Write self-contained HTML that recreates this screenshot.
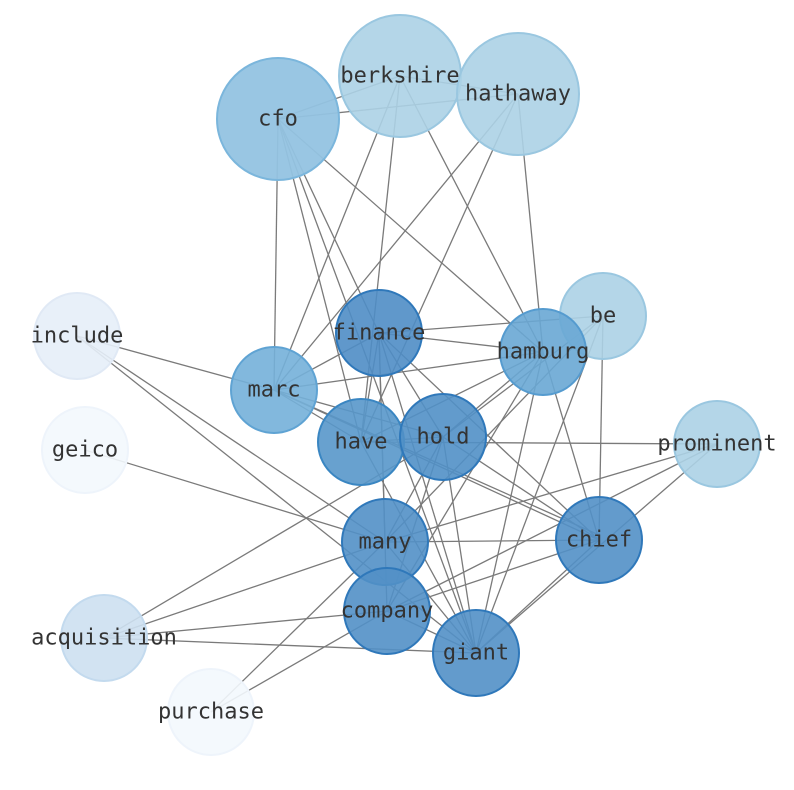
<!DOCTYPE html>
<html><head><meta charset="utf-8"><style>
html,body{margin:0;padding:0;background:#fff;}
svg{display:block;}
text{font-family:"DejaVu Sans Mono","Liberation Mono",monospace;font-size:22px;fill:#333;text-anchor:middle;dominant-baseline:central;}
</style></head><body>
<svg width="794" height="790" viewBox="0 0 794 790" xmlns="http://www.w3.org/2000/svg">
<g stroke="#7a7a7a" stroke-width="1.3" fill="none">
<line x1="278" y1="119" x2="400" y2="76"/>
<line x1="278" y1="119" x2="518" y2="94"/>
<line x1="278" y1="119" x2="274" y2="390"/>
<line x1="278" y1="119" x2="361" y2="442"/>
<line x1="278" y1="119" x2="379" y2="333"/>
<line x1="278" y1="119" x2="543" y2="352"/>
<line x1="278" y1="119" x2="476" y2="653"/>
<line x1="400" y1="76" x2="518" y2="94"/>
<line x1="400" y1="76" x2="274" y2="390"/>
<line x1="400" y1="76" x2="361" y2="442"/>
<line x1="400" y1="76" x2="543" y2="352"/>
<line x1="518" y1="94" x2="274" y2="390"/>
<line x1="518" y1="94" x2="361" y2="442"/>
<line x1="518" y1="94" x2="543" y2="352"/>
<line x1="77" y1="336" x2="274" y2="390"/>
<line x1="77" y1="336" x2="385" y2="542"/>
<line x1="77" y1="336" x2="476" y2="653"/>
<line x1="85" y1="450" x2="385" y2="542"/>
<line x1="379" y1="333" x2="603" y2="316"/>
<line x1="379" y1="333" x2="543" y2="352"/>
<line x1="379" y1="333" x2="274" y2="390"/>
<line x1="379" y1="333" x2="361" y2="442"/>
<line x1="379" y1="333" x2="443" y2="437"/>
<line x1="379" y1="333" x2="385" y2="542"/>
<line x1="379" y1="333" x2="387" y2="611"/>
<line x1="379" y1="333" x2="476" y2="653"/>
<line x1="379" y1="333" x2="599" y2="540"/>
<line x1="543" y1="352" x2="274" y2="390"/>
<line x1="543" y1="352" x2="361" y2="442"/>
<line x1="543" y1="352" x2="443" y2="437"/>
<line x1="543" y1="352" x2="476" y2="653"/>
<line x1="543" y1="352" x2="599" y2="540"/>
<line x1="543" y1="352" x2="387" y2="611"/>
<line x1="603" y1="316" x2="443" y2="437"/>
<line x1="603" y1="316" x2="385" y2="542"/>
<line x1="603" y1="316" x2="476" y2="653"/>
<line x1="603" y1="316" x2="599" y2="540"/>
<line x1="274" y1="390" x2="361" y2="442"/>
<line x1="274" y1="390" x2="443" y2="437"/>
<line x1="274" y1="390" x2="599" y2="540"/>
<line x1="274" y1="390" x2="599" y2="535"/>
<line x1="361" y1="442" x2="717" y2="444"/>
<line x1="361" y1="442" x2="476" y2="653"/>
<line x1="361" y1="442" x2="443" y2="437"/>
<line x1="443" y1="437" x2="385" y2="542"/>
<line x1="443" y1="437" x2="387" y2="611"/>
<line x1="443" y1="437" x2="476" y2="653"/>
<line x1="443" y1="437" x2="599" y2="540"/>
<line x1="443" y1="437" x2="104" y2="638"/>
<line x1="717" y1="444" x2="385" y2="542"/>
<line x1="717" y1="444" x2="387" y2="611"/>
<line x1="717" y1="444" x2="476" y2="653"/>
<line x1="385" y1="542" x2="599" y2="540"/>
<line x1="385" y1="542" x2="104" y2="638"/>
<line x1="385" y1="542" x2="211" y2="712"/>
<line x1="385" y1="542" x2="476" y2="653"/>
<line x1="599" y1="540" x2="387" y2="611"/>
<line x1="599" y1="540" x2="476" y2="653"/>
<line x1="387" y1="611" x2="104" y2="638"/>
<line x1="387" y1="611" x2="211" y2="712"/>
<line x1="387" y1="611" x2="476" y2="653"/>
<line x1="476" y1="653" x2="104" y2="638"/>
</g>
<g stroke-width="2">
<circle cx="278" cy="119" r="61" fill="#93c3e1" stroke="#7bb6dc" fill-opacity="0.95"/>
<circle cx="400" cy="76" r="61" fill="#acd1e5" stroke="#9ac7e0" fill-opacity="0.9"/>
<circle cx="518" cy="94" r="61" fill="#acd1e5" stroke="#9ac7e0" fill-opacity="0.9"/>
<circle cx="603" cy="316" r="43" fill="#acd1e5" stroke="#9ac7e0" fill-opacity="0.9"/>
<circle cx="77" cy="336" r="43" fill="#e6eef8" stroke="#e0e9f5" fill-opacity="0.9"/>
<circle cx="85" cy="450" r="43" fill="#f3f8fd" stroke="#eef4fb" fill-opacity="0.9"/>
<circle cx="104" cy="638" r="43" fill="#cde0f1" stroke="#c3daee" fill-opacity="0.9"/>
<circle cx="211" cy="712" r="43" fill="#f3f8fd" stroke="#eef4fb" fill-opacity="0.9"/>
<circle cx="717" cy="444" r="43" fill="#acd1e5" stroke="#9ac7e0" fill-opacity="0.9"/>
<circle cx="274" cy="390" r="43" fill="#74b0d9" stroke="#5fa3d3" fill-opacity="0.9"/>
<circle cx="543" cy="352" r="43" fill="#69a7d4" stroke="#559bcf" fill-opacity="0.9"/>
<circle cx="379" cy="333" r="43" fill="#4f8dc5" stroke="#2f78ba" fill-opacity="0.9"/>
<circle cx="361" cy="442" r="43" fill="#5897ca" stroke="#3a86c2" fill-opacity="0.9"/>
<circle cx="443" cy="437" r="43" fill="#5190c6" stroke="#2f78ba" fill-opacity="0.9"/>
<circle cx="385" cy="542" r="43" fill="#5290c6" stroke="#2f78ba" fill-opacity="0.9"/>
<circle cx="599" cy="540" r="43" fill="#5290c6" stroke="#2f78ba" fill-opacity="0.9"/>
<circle cx="387" cy="611" r="43" fill="#5290c6" stroke="#2f78ba" fill-opacity="0.9"/>
<circle cx="476" cy="653" r="43" fill="#5290c6" stroke="#2f78ba" fill-opacity="0.9"/>
</g>
<text x="278" y="119">cfo</text>
<text x="400" y="76">berkshire</text>
<text x="518" y="94">hathaway</text>
<text x="603" y="316">be</text>
<text x="77" y="336">include</text>
<text x="85" y="450">geico</text>
<text x="104" y="638">acquisition</text>
<text x="211" y="712">purchase</text>
<text x="717" y="444">prominent</text>
<text x="274" y="390">marc</text>
<text x="543" y="352">hamburg</text>
<text x="379" y="333">finance</text>
<text x="361" y="442">have</text>
<text x="443" y="437">hold</text>
<text x="385" y="542">many</text>
<text x="599" y="540">chief</text>
<text x="387" y="611">company</text>
<text x="476" y="653">giant</text>
</svg>
</body></html>
